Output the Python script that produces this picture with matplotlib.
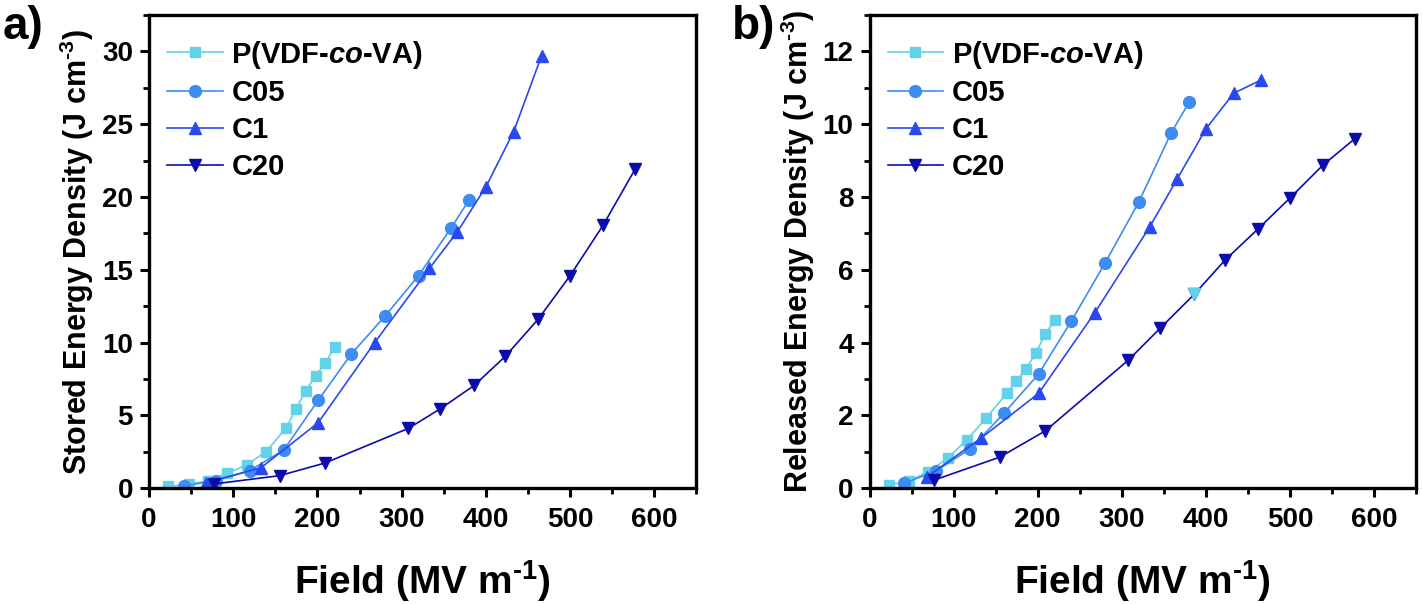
import numpy as np
import matplotlib
matplotlib.use('Agg')
import matplotlib.pyplot as plt
from matplotlib.ticker import MultipleLocator

#Fonts: bold Arial-like everywhere, superscripts through mathtext
plt.rcParams['font.family'] = ['Liberation Sans', 'DejaVu Sans']
plt.rcParams['font.weight'] = 'bold'
plt.rcParams['axes.labelweight'] = 'bold'
plt.rcParams['mathtext.fontset'] = 'custom'
plt.rcParams['mathtext.rm'] = 'Liberation Sans:bold'
plt.rcParams['mathtext.bf'] = 'Liberation Sans:bold'
plt.rcParams['mathtext.it'] = 'Liberation Sans:italic:bold'
plt.rcParams['mathtext.default'] = 'bf'

#Data (field in MV/m, energy density in J/cm3)
labels = ['P(VDF-$\\mathit{co}$-VA)', 'C05', 'C1', 'C20']
colors = ['#62d2ea', '#3d8cf2', '#2a48f0', '#0c0cac']
markers = ['s', 'o', '^', 'v']
msizes = [7.5, 8.5, 9, 9]

#a) stored energy
p_x = [23, 47, 70, 93, 116, 139, 163, 174, 186, 198, 209, 221]
p_stored = [0.12, 0.25, 0.5, 1.0, 1.6, 2.5, 4.15, 5.4, 6.7, 7.7, 8.6, 9.7]
c05_x = [41, 79, 120, 160, 201, 240, 280, 320, 359, 380]
c05_stored = [0.15, 0.5, 1.2, 2.62, 6.04, 9.2, 11.8, 14.6, 17.9, 19.8]
c1_x = [68, 133, 201, 268, 333, 366, 400, 433, 466]
c1_stored = [0.37, 1.4, 4.5, 10.0, 15.1, 17.6, 20.7, 24.5, 29.7]
c20_x = [77, 155, 209, 308, 346, 386, 423, 462, 500, 539, 577]
c20_stored = [0.28, 0.85, 1.72, 4.1, 5.45, 7.05, 9.05, 11.6, 14.6, 18.05, 21.9]

#b) released energy
p_released = [0.08, 0.2, 0.45, 0.82, 1.33, 1.93, 2.6, 2.93, 3.27, 3.72, 4.24, 4.63]
c05_released = [0.13, 0.47, 1.08, 2.06, 3.13, 4.59, 6.18, 7.85, 9.77, 10.6]
c1_released = [0.3, 1.38, 2.6, 4.82, 7.17, 8.5, 9.87, 10.85, 11.22]
c20_released = [0.22, 0.85, 1.57, 3.52, 4.4, 5.32, 6.27, 7.12, 7.97, 8.87, 9.6]
odd_point = 5                                  #C20 point drawn in the P colour in b)

xs = [p_x, c05_x, c1_x, c20_x]
stored = [p_stored, c05_stored, c1_stored, c20_stored]
released = [p_released, c05_released, c1_released, c20_released]

fig = plt.figure(figsize=(14.22, 6.04), dpi=100)
ax_a = fig.add_axes([0.1048, 0.192, 0.3850, 0.783])
ax_b = fig.add_axes([0.6115, 0.192, 0.3843, 0.783])


def style_axis(ax, ymax, ystep, ylabel):
	ax.set_xlim(0, 650)
	ax.set_ylim(0, ymax)
	ax.xaxis.set_major_locator(MultipleLocator(100))
	ax.xaxis.set_minor_locator(MultipleLocator(50))
	ax.yaxis.set_major_locator(MultipleLocator(ystep))
	ax.yaxis.set_minor_locator(MultipleLocator(ystep / 2))
	ax.tick_params(which='major', direction='out', length=6.5, width=2.2, labelsize=20, pad=7)
	ax.tick_params(axis='y', which='major', pad=5)
	ax.tick_params(which='minor', direction='out', length=4, width=2.0)
	ax.tick_params(top=False, right=False)
	for s in ax.spines.values():
		s.set_linewidth(2.4)
	ax.set_xlabel('Field (MV m$^{\\text{-1}}$)', fontsize=28)
	ax.xaxis.set_label_coords(0.5, -0.148)
	ax.set_ylabel(ylabel, fontsize=22, labelpad=4)
	ax.legend(loc='upper left', frameon=False, fontsize=21, handlelength=1.9,
		handletextpad=0.3, labelspacing=0.3, borderaxespad=0.0, bbox_to_anchor=(0.012, 0.975))


for i in range(4):
	ax_a.plot(xs[i], stored[i], marker=markers[i], ms=msizes[i], color=colors[i],
		lw=1.2, label=labels[i], mec=colors[i])
	ax_b.plot(xs[i], released[i], marker=markers[i], ms=msizes[i], color=colors[i],
		lw=1.2, label=labels[i], mec=colors[i])

ax_b.plot(c20_x[odd_point], c20_released[odd_point], marker='v', ms=9, color=colors[0], ls='none')

style_axis(ax_a, 32.5, 5, 'Stored Energy Density (J cm$^{\\text{-3}}$)')
style_axis(ax_b, 13.0, 2, 'Released Energy Density (J cm$^{\\text{-3}}$)')

fig.text(0.002, 0.992, 'a)', fontsize=33, fontweight='bold', va='top', ha='left')
fig.text(0.515, 0.992, 'b)', fontsize=33, fontweight='bold', va='top', ha='left')

fig.savefig('out.png', dpi=100)
